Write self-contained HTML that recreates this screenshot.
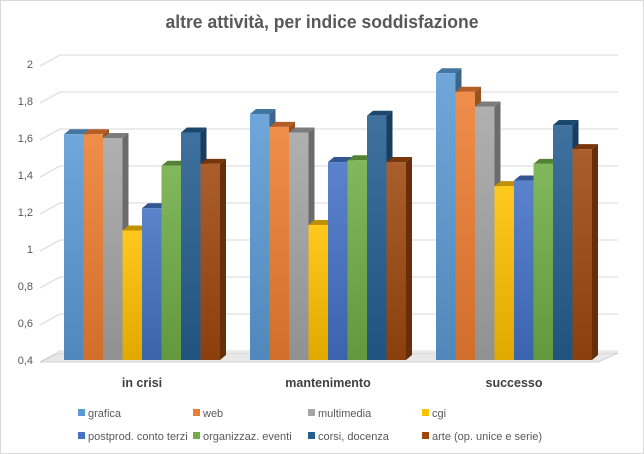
<!DOCTYPE html>
<html><head><meta charset="utf-8">
<style>
html,body{margin:0;padding:0;background:#fff;}
svg{display:block;font-family:"Liberation Sans",sans-serif;}
</style></head>
<body>
<svg id="chart" width="644" height="454" viewBox="0 0 644 454" xmlns="http://www.w3.org/2000/svg">
<rect x="0.5" y="0.5" width="643" height="453" fill="#fff" stroke="#d9d9d9"/>
<text x="322" y="28" text-anchor="middle" font-size="18" font-weight="bold" fill="#595959" textLength="313" lengthAdjust="spacingAndGlyphs">altre attività, per indice soddisfazione</text>
<g id="grid"></g>
<g id="bars"></g>
<g id="cats"></g>
<g id="legend"></g>
</svg>
<script>
const categories = ["in crisi", "mantenimento", "successo"];
const seriesNames = ["grafica", "web", "multimedia", "cgi", "postprod. conto terzi", "organizzaz. eventi", "corsi, docenza", "arte (op. unice e serie)"];
const grafica = [1.62, 1.73, 1.95];
const web = [1.62, 1.66, 1.85];
const multimedia = [1.60, 1.63, 1.77];
const cgi = [1.10, 1.13, 1.34];
const postprod = [1.22, 1.47, 1.37];
const organizzaz = [1.45, 1.48, 1.46];
const corsi = [1.63, 1.72, 1.67];
const arte = [1.46, 1.47, 1.54];
const tickValues = [0.4, 0.6, 0.8, 1, 1.2, 1.4, 1.6, 1.8, 2];
const tickLabels = ["0,4", "0,6", "0,8", "1", "1,2", "1,4", "1,6", "1,8", "2"];

const allSeries = [grafica, web, multimedia, cgi, postprod, organizzaz, corsi, arte];
const colors = ["#5b9bd5","#ed7d31","#a5a5a5","#ffc000","#4472c4","#70ad47","#255e91","#9e480e"];
const NS = "http://www.w3.org/2000/svg";
const yMin = 0.4, yMax = 2;
function yFront(v){ return 360 - (v - yMin) * 185; }
const DX = 20, DY = 9;
function groupX(i){ return 64 + i * 186; }
const barW = 19.5, depthX = 6, depthY = 5;

function mk(tag, attrs, parent){
  const e = document.createElementNS(NS, tag);
  for (const k in attrs) e.setAttribute(k, attrs[k]);
  parent.appendChild(e);
  return e;
}
function shade(hex, f){
  const n = parseInt(hex.slice(1),16);
  let r=(n>>16)&255,g=(n>>8)&255,b=n&255;
  if (f<0){ r=Math.round(r*(1+f)); g=Math.round(g*(1+f)); b=Math.round(b*(1+f)); }
  else { r=Math.round(r+(255-r)*f); g=Math.round(g+(255-g)*f); b=Math.round(b+(255-b)*f); }
  return "rgb("+r+","+g+","+b+")";
}
const svg = document.getElementById("chart");
const defs = mk("defs", {}, svg);
colors.forEach((c, i) => {
  const lg = mk("linearGradient", {id:"g"+i, x1:"0", y1:"0", x2:"0", y2:"1"}, defs);
  mk("stop", {offset:"0", "stop-color": shade(c, 0.12)}, lg);
  mk("stop", {offset:"1", "stop-color": shade(c, -0.12)}, lg);
});

const grid = document.getElementById("grid");
tickValues.forEach((v, i) => {
  const yf = yFront(v), yb = yf - DY;
  const gl = mk("line", {x1:60, y1:yb, x2:618, y2:yb, stroke:"#d9d9d9", "stroke-width":1}, grid);
  
  
  const dl = mk("line", {x1:40, y1:yf+2, x2:60, y2:yb, stroke:"#d9d9d9", "stroke-width":1}, grid);
  
  
  const t = mk("text", {x:33, y:yf+4, "text-anchor":"end", "font-size":11, fill:"#595959"}, grid);
  t.textContent = tickLabels[i];
  
  
});
const floor = mk("polygon", {points:"40,362 60,353 618,353 598,362", fill:"#e8e8e8", stroke:"#d0d0d0"}, grid);



const bars = document.getElementById("bars");
categories.forEach((cat, ci) => {
  allSeries.forEach((s, si) => {
    const x = groupX(ci) + si * barW;
    const yt = yFront(s[ci]), yb = yFront(yMin);
    const g = mk("g", {}, bars);
    
    
    mk("polygon", {points: [x+barW,yt, x+barW+depthX,yt-depthY, x+barW+depthX,yb-depthY, x+barW,yb].join(" "), fill: shade(colors[si], -0.35)}, g);
    mk("polygon", {points: [x,yt, x+depthX,yt-depthY, x+barW+depthX,yt-depthY, x+barW,yt].join(" "), fill: shade(colors[si], -0.25)}, g);
    mk("rect", {x:x, y:yt, width:barW, height:yb-yt, fill:"url(#g"+si+")"}, g);
  });
  const t = mk("text", {x: groupX(ci) + 4*barW, y:387, "text-anchor":"middle", "font-size":12.5, "font-weight":"bold", fill:"#404040"}, document.getElementById("cats"));
  t.textContent = cat;
  
  
});

const legend = document.getElementById("legend");
const legX = [78, 193, 308, 422], legY = [413, 436];
seriesNames.forEach((n, i) => {
  const x = legX[i % 4], y = legY[Math.floor(i / 4)];
  const g = mk("g", {}, legend);
  
  
  mk("rect", {x:x, y:y-4, width:7, height:7, fill:colors[i]}, g);
  const t = mk("text", {x:x+10, y:y+4, "font-size":11, fill:"#595959"}, g);
  t.textContent = n;
});
</script>
</body></html>
